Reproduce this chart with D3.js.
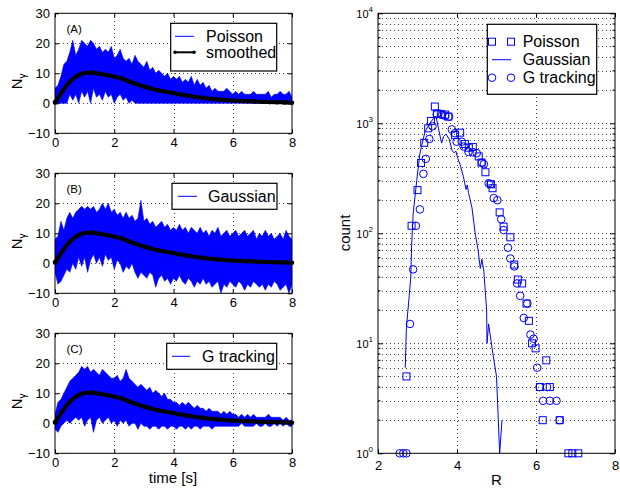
<!DOCTYPE html>
<html><head><meta charset="utf-8">
<script src="https://cdnjs.cloudflare.com/ajax/libs/d3/7.8.5/d3.min.js"></script>
<style>body{margin:0;background:#fff}text{font-family:"Liberation Sans",Arial,Helvetica,sans-serif;fill:#000}</style>
</head><body><svg id="c" width="620" height="489"></svg>
<script>
// ---------- DATA ----------
// sample times (s) for the noisy traces (0 .. 8 s every 0.1 s)
const sampleTimes = d3.range(81).map(i => i / 10);
// upper / lower extent of the noisy traces at each sample time
const poissonHi = [5,6,9,13,14,17,21,16,18,21, 20,19,21,20,18,19,17,18,17,19, 15,16,18,15,14,15,13,16,14,13,
  12,14,11,12,10,11,10,9,10,8, 9,8,9,7,8,7,9,6,8,6, 7,5,6,4,5,4,4,4,5,4, 3,4,3,4,3,3,3,4,3,3, 3,3,4,2,3,3,4,3,3,4, 2];
const poissonLo = [0,0,0,0,0,3,1,3,0,4, 2,4,0,5,2,3,1,4,2,3, 0,2,3,1,2,0,1,0,0,0,
  0,0,0,0,0,0,0,0,0,0, 0,0,0,0,0,0,0,0,0,0, 0,0,0,0,0,0,0,0,0,0, 0,0,0,0,0,0,0,0,0,0, 0,0,0,0,0,0,0,0,0,0, 0];
const gaussHi = [8,9,14,11,15,17,15,17,18,19, 18,19,18,19,17,18,20,18,20,17, 18,16,17,15,17,15,16,14,15,21,
  14,15,13,14,12,13,14,12,13,11, 12,11,13,11,12,10,12,11,10,12, 10,11,9,11,10,12,9,10,11,9,
  10,11,9,10,11,9,10,11,8,10, 9,11,9,10,8,9,10,8,11,9, 8];
const gaussLo = [-3,-7,-6,-4,-2,-3,0,-2,2,-1, 2,-3,1,3,0,2,-1,3,1,2, -2,1,0,-3,-1,-2,0,-3,-5,-3,
  -4,-5,-3,-4,-8,-5,-4,-6,-5,-7, -5,-6,-4,-6,-7,-5,-6,-8,-6,-7, -5,-7,-6,-8,-7,-6,-10,-7,-8,-6,
  -7,-8,-6,-7,-9,-7,-8,-6,-7,-8, -7,-9,-7,-8,-6,-7,-9,-8,-7,-10, -7];
const trackHi = [3,7,8,10,12,14,15,16,17,19, 18,19,17,18,17,16,18,17,16,15, 15,16,14,15,18,15,14,13,12,13,
  12,11,12,10,11,10,9,10,8,8, 7,7,6,7,6,7,6,5,6,5, 5,4,5,4,4,4,3,4,3,4, 3,3,2,3,2,3,2,3,2,2, 2,2,3,2,2,2,2,1,2,1, 1];
const trackLo = [-2,-3,-1,0,1,0,1,2,1,2, -1,1,2,-3,1,2,0,1,2,0, 1,-1,1,0,1,-1,0,0,-2,0,
  -1,-1,-2,-1,-1,-2,-1,-1,-2,-1, -1,-2,-1,-1,-2,-1,-2,-1,-1,-2, -1,-1,-1,-2,-1,-1,-1,-1,-1,-1,
  -1,-1,-1,0,-1,-1,-1,-1,0,-1, -1,0,-1,-1,0,-1,0,-1,0,-1, -1];
// smoothed curve (every 0.25 s)
const smoothTimes = [0,0.25,0.5,0.75,1,1.25,1.5,1.75,2,2.25,2.5,2.75,3,3.25,3.5,3.75,4,4.25,4.5,4.75,5,5.25,5.5,5.75,6,6.25,6.5,6.75,7,7.25,7.5,7.75,8];
const smoothVals  = [0.3,4,7.2,9.2,10.1,10.3,9.8,9.4,8.9,8.3,7.3,6.4,5.6,4.9,4.3,3.8,3.4,2.9,2.5,2.1,1.8,1.5,1.3,1.1,0.9,0.8,0.7,0.6,0.5,0.4,0.35,0.3,0.2];

// histogram of R
const poissonR = [2.72,2.85,3.0,3.09,3.17,3.27,3.34,3.44,3.49,3.59,3.70,3.78,3.95,4.08,4.2,4.3,4.4,4.55,4.62,4.72,4.86,4.9,5.08,5.18,5.35,5.45,5.54,5.65,5.76,5.82,5.9,5.99,6.1,6.17,6.26,6.35,6.6,6.82,6.92,7.07];
const poissonCount = [5,117,247,436,665,900,1050,1420,1230,1215,1200,1150,780,822,648,600,610,500,440,359,279,257,155,115,92,52,38,35,23,16,10,9,4,2,7,4,2,1,1,1];
const gaussR = [2.69,2.72,2.79,2.83,2.85,2.89,2.98,3.06,3.19,3.31,3.4,3.47,3.53,3.61,3.66,3.72,3.8,3.88,3.93,3.97,4.02,4.08,4.16,4.23,4.26,4.29,4.38,4.46,4.53,4.59,4.63,4.68,4.75,4.76,4.8,4.91,5.0,5.08,5.14];
const gaussCount = [6,14,27,40,75,150,300,530,840,1000,1100,1150,900,660,760,800,720,560,540,560,480,420,330,250,275,235,170,100,72,48,58,45,20,10,15,8,5,1,2];
const trackR = [2.55,2.64,2.72,2.81,2.89,2.96,3.06,3.15,3.21,3.3,3.38,3.49,3.62,3.7,3.8,3.87,3.95,3.99,4.12,4.17,4.29,4.4,4.5,4.63,4.68,4.8,4.85,4.93,5.02,5.12,5.18,5.29,5.35,5.45,5.52,5.6,5.69,5.78,5.86,5.94,6.03,6.09,6.18,6.28,6.35,6.52,6.6];
const trackCount = [1,1,1,15,47,117,165,347,475,720,940,1205,1190,1170,1150,880,813,680,680,615,550,545,535,438,425,285,280,209,200,134,107,74,59,50,35,27,17,23,12,11,6,4,3,4,3,3,2];

const timeTicks = [0,2,4,6,8];
const nTicks = [-10,0,10,20,30];
const rTicks = [2,4,6,8];
const countTicks = [1,10,100,1000,10000];

// ---------- DRAWING ----------
const svg = d3.select('#c');
const BLUE = '#0000ff';
const dotted = sel => sel.attr('stroke','#444').attr('stroke-width',1).attr('stroke-dasharray','1,3').attr('shape-rendering','crispEdges');

const xT = d3.scaleLinear().domain([0,8]).range([55,292]);

const panels = [
  {tag:'(A)', top:13.3, hi:poissonHi, lo:poissonLo, box:[170.7,23.3,276.7,71], legend:[{t:'Poisson',type:'blue'},{t:'smoothed',type:'black'}], lx:[175,194], tx:206},
  {tag:'(B)', top:173.3, hi:gaussHi, lo:gaussLo, box:[172,183.3,277,209.3], legend:[{t:'Gaussian',type:'blue'}], lx:[178,197], tx:208},
  {tag:'(C)', top:333.3, hi:trackHi, lo:trackLo, box:[166.7,343.3,276.7,369.3], legend:[{t:'G tracking',type:'blue'}], lx:[172,190], tx:202}
];

panels.forEach((p,pi) => {
  const y = d3.scaleLinear().domain([-10,30]).range([p.top+120,p.top]);
  const g = svg.append('g');
  const [x0,x1] = xT.range();
  // grid
  g.selectAll('.gx').data(timeTicks.slice(1,-1)).enter().append('line')
    .attr('x1',d=>Math.round(xT(d))+0.5).attr('x2',d=>Math.round(xT(d))+0.5).attr('y1',y(30)).attr('y2',y(-10)).call(dotted);
  g.selectAll('.gy').data(nTicks.slice(1,-1)).enter().append('line')
    .attr('y1',d=>Math.round(y(d))+0.5).attr('y2',d=>Math.round(y(d))+0.5).attr('x1',x0).attr('x2',x1).call(dotted);
  // clip
  const cid = 'clip'+pi;
  svg.append('clipPath').attr('id',cid).append('rect').attr('x',x0).attr('y',y(30)).attr('width',x1-x0).attr('height',y(-10)-y(30));
  // noisy band between lower and upper extents
  const band = d3.area().x(d=>xT(d.t)).y0(d=>y(d.lo)).y1(d=>y(d.hi));
  const bandData = sampleTimes.map((t,i)=>({t, lo:p.lo[i], hi:p.hi[i]}));
  g.append('path').attr('clip-path',`url(#${cid})`).attr('d', band(bandData))
    .attr('fill',BLUE).attr('stroke',BLUE).attr('stroke-width',0.6);
  // smoothed
  const sm = smoothTimes.map((t,i)=>[xT(t), y(smoothVals[i])]);
  g.append('path').attr('d', d3.line().curve(d3.curveMonotoneX)(sm)).attr('fill','none')
    .attr('stroke','#000').attr('stroke-width',4).attr('stroke-linejoin','round');
  g.selectAll('.sd').data(sm).enter().append('circle').attr('cx',d=>d[0]).attr('cy',d=>d[1]).attr('r',2.3).attr('fill','#000');
  // axes
  const ax = g.append('g').attr('transform',`translate(0,${y(-10)})`)
    .call(d3.axisBottom(xT).tickValues(timeTicks).tickSize(-4).tickPadding(4).tickFormat(d3.format('d')));
  const ay = g.append('g').attr('transform',`translate(${x0},0)`)
    .call(d3.axisLeft(y).tickValues(nTicks).tickSize(-4).tickPadding(5).tickFormat(d=>d<0?'\u2212'+Math.abs(d):d));
  const at = g.append('g').attr('transform',`translate(0,${y(30)})`).call(d3.axisTop(xT).tickValues(timeTicks).tickSize(-4).tickFormat(''));
  const ar = g.append('g').attr('transform',`translate(${x1},0)`).call(d3.axisRight(y).tickValues(nTicks).tickSize(-4).tickFormat(''));
  [ax,ay,at,ar].forEach(a => { a.select('.domain').remove(); a.selectAll('text').style('font-size','13px'); a.selectAll('line').attr('stroke','#000'); });
  g.append('rect').attr('x',x0).attr('y',y(30)).attr('width',x1-x0).attr('height',y(-10)-y(30))
    .attr('fill','none').attr('stroke','#000').attr('stroke-width',1);
  // panel tag
  g.append('text').attr('x',66.5).attr('y',p.top+20).style('font-size','11.5px').text(p.tag);
  // y label N_gamma
  const yl = g.append('text').attr('transform',`translate(22,${p.top+68}) rotate(-90)`).attr('text-anchor','middle').style('font-size','15px');
  yl.append('tspan').text('N');
  yl.append('tspan').attr('dy',4).style('font-size','10px').text('\u03b3');
  // legend
  const [bx0,by0,bx1,by1] = p.box;
  g.append('rect').attr('x',bx0).attr('y',by0).attr('width',bx1-bx0).attr('height',by1-by0).attr('fill','#fff').attr('stroke','#000').attr('stroke-width',1.2);
  p.legend.forEach((e,k) => {
    const cy = by0 + 13 + k*16;
    g.append('line').attr('x1',p.lx[0]).attr('x2',p.lx[1]).attr('y1',cy).attr('y2',cy)
      .attr('stroke', e.type==='blue'?BLUE:'#000').attr('stroke-width', e.type==='blue'?1:2);
    if (e.type==='black') {
      g.append('circle').attr('cx',p.lx[0]).attr('cy',cy).attr('r',1.8).attr('fill','#000');
      g.append('circle').attr('cx',p.lx[1]).attr('cy',cy).attr('r',1.8).attr('fill','#000');
    }
    g.append('text').attr('x',p.tx).attr('y',cy+5.5).style('font-size','16px').text(e.t);
  });
});
// x label
svg.append('text').attr('x',173).attr('y',483).attr('text-anchor','middle').style('font-size','15px').text('time [s]');

// ---------- right panel ----------
const xR = d3.scaleLinear().domain([2,8]).range([378,615]);
const yR = d3.scaleLog().domain([1,10000]).range([453.3,13.3]);
const gR = svg.append('g');
const [rx0,rx1] = xR.range();
const minor = [];
[1,10,100,1000].forEach(dec => { for (let m=2;m<=9;m++) minor.push(dec*m); });
gR.selectAll('.gx').data([4,6]).enter().append('line')
  .attr('x1',d=>Math.round(xR(d))+0.5).attr('x2',d=>Math.round(xR(d))+0.5).attr('y1',yR(10000)).attr('y2',yR(1)).call(dotted);
gR.selectAll('.gy').data(minor.concat([10,100,1000])).enter().append('line')
  .attr('y1',d=>Math.round(yR(d))+0.5).attr('y2',d=>Math.round(yR(d))+0.5).attr('x1',rx0).attr('x2',rx1).call(dotted);
// minor ticks
[rx0, rx1].forEach((xx,side) => {
  gR.selectAll('.mt'+side).data(minor).enter().append('line')
    .attr('x1',xx).attr('x2',side?xx-2.5:xx+2.5).attr('y1',d=>yR(d)).attr('y2',d=>yR(d)).attr('stroke','#000');
});
// Gaussian line
gR.append('path').attr('d', d3.line()(gaussR.map((r,i)=>[xR(r), yR(gaussCount[i])])))
  .attr('fill','none').attr('stroke',BLUE).attr('stroke-width',1);
// squares
const SQ = 7;
gR.selectAll('.sq').data(poissonR.map((r,i)=>[r,poissonCount[i]])).enter().append('rect')
  .attr('x',d=>xR(d[0])-SQ/2).attr('y',d=>yR(d[1])-SQ/2).attr('width',SQ).attr('height',SQ)
  .attr('fill','none').attr('stroke',BLUE).attr('stroke-width',1);
// circles
gR.selectAll('.ci').data(trackR.map((r,i)=>[r,trackCount[i]])).enter().append('circle')
  .attr('cx',d=>xR(d[0])).attr('cy',d=>yR(d[1])).attr('r',3.8)
  .attr('fill','none').attr('stroke',BLUE).attr('stroke-width',1);
// axes
const supDigits = {0:'0',1:'1',2:'2',3:'3',4:'4'};
const rAx = gR.append('g').attr('transform',`translate(0,${yR(1)})`)
  .call(d3.axisBottom(xR).tickValues(rTicks).tickSize(-4).tickPadding(7).tickFormat(d3.format('d')));
const rAy = gR.append('g').attr('transform',`translate(${rx0},0)`)
  .call(d3.axisLeft(yR).tickValues(countTicks).tickSize(-5).tickPadding(6).tickFormat(''));
const rAt = gR.append('g').attr('transform',`translate(0,${yR(10000)})`).call(d3.axisTop(xR).tickValues(rTicks).tickSize(-4).tickFormat(''));
const rAr = gR.append('g').attr('transform',`translate(${rx1},0)`).call(d3.axisRight(yR).tickValues(countTicks).tickSize(-5).tickFormat(''));
[rAx,rAy,rAt,rAr].forEach(a => { a.select('.domain').remove(); a.selectAll('text').style('font-size','13px'); a.selectAll('line').attr('stroke','#000'); });
countTicks.forEach(c => {
  const t = gR.append('text').attr('x',rx0-5).attr('y',yR(c)+5).attr('text-anchor','end').style('font-size','11px');
  t.append('tspan').text('10');
  t.append('tspan').attr('dy',-6).style('font-size','8px').text(supDigits[Math.round(Math.log10(c))]);
});
gR.append('rect').attr('x',rx0).attr('y',yR(10000)).attr('width',rx1-rx0).attr('height',yR(1)-yR(10000))
  .attr('fill','none').attr('stroke','#000').attr('stroke-width',1);
// legend
gR.append('rect').attr('x',487.3).attr('y',24.3).attr('width',109.4).attr('height',70).attr('fill','#fff').attr('stroke','#000').attr('stroke-width',1.2);
const legR = [{t:'Poisson',m:'sq'},{t:'Gaussian',m:'line'},{t:'G tracking',m:'ci'}];
legR.forEach((e,k) => {
  const cy = 41.7 + k*18;
  if (e.m==='line') gR.append('line').attr('x1',492).attr('x2',511).attr('y1',cy).attr('y2',cy).attr('stroke',BLUE);
  [492,511].forEach(mx => {
    if (e.m==='sq') gR.append('rect').attr('x',mx-SQ/2).attr('y',cy-SQ/2).attr('width',SQ).attr('height',SQ).attr('fill','none').attr('stroke',BLUE);
    if (e.m==='ci') gR.append('circle').attr('cx',mx).attr('cy',cy).attr('r',3.8).attr('fill','none').attr('stroke',BLUE);
  });
  gR.append('text').attr('x',522.7).attr('y',cy+5.5).style('font-size','16px').text(e.t);
});
svg.append('text').attr('transform','translate(350,233) rotate(-90)').attr('text-anchor','middle').style('font-size','15px').text('count');
svg.append('text').attr('x',496.5).attr('y',485).attr('text-anchor','middle').style('font-size','15px').text('R');
</script></body></html>
